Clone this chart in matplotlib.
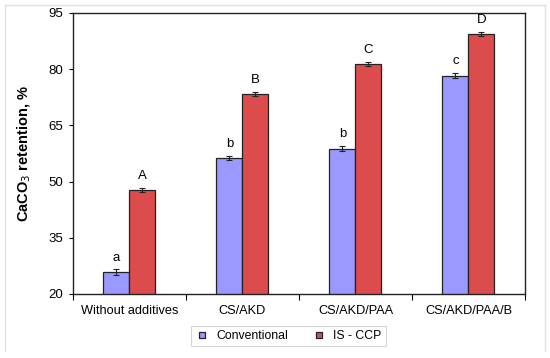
import matplotlib.pyplot as plt
import numpy as np
from matplotlib.lines import Line2D

plt.rcParams['font.family'] = ['Liberation Sans', 'DejaVu Sans']

categories = ['Without additives', 'CS/AKD', 'CS/AKD/PAA', 'CS/AKD/PAA/B']
conventional = [25.8, 56.3, 58.8, 78.3]
conv_err = [0.8, 0.6, 0.6, 0.6]
isccp = [47.8, 73.4, 81.4, 89.4]
isccp_err = [0.5, 0.5, 0.6, 0.5]
conv_letters = ['a', 'b', 'b', 'c']
isccp_letters = ['A', 'B', 'C', 'D']

fig = plt.figure(figsize=(5.5, 3.58), dpi=100)
ax = fig.add_axes([0.1327, 0.1788, 0.8218, 0.785])

x = np.arange(len(categories))
w = 0.23
blue = '#9999ff'
red = '#dd4c4c'
ek = dict(ecolor='#222222', elinewidth=0.8, capsize=2.5, capthick=0.8)

ax.bar(x - w / 2, conventional, w, color=blue, edgecolor='#222222', linewidth=0.9,
       yerr=conv_err, error_kw=ek, zorder=2)
ax.bar(x + w / 2, isccp, w, color=red, edgecolor='#222222', linewidth=0.9,
       yerr=isccp_err, error_kw=ek, zorder=2)

for i in range(len(categories)):
    ax.text(x[i] - w / 2, conventional[i] + 2.2, conv_letters[i], ha='center', va='bottom', fontsize=9.5)
    ax.text(x[i] + w / 2, isccp[i] + 2.2, isccp_letters[i], ha='center', va='bottom', fontsize=9.5)

ax.set_xlim(-0.5, 3.5)
ax.set_ylim(20, 95)
ax.set_yticks([20, 35, 50, 65, 80, 95])
ax.set_xticks(np.arange(-0.5, 4, 1))
ax.set_xticklabels([])
ax.set_xticks(x, minor=True)
ax.set_xticklabels(categories, minor=True, fontsize=9.2)
ax.tick_params(axis='x', which='minor', length=0, pad=8)
ax.tick_params(axis='x', which='major', length=4, direction='out')
ax.tick_params(axis='y', length=3, direction='out', labelsize=9.5, pad=4)

for s in ax.spines.values():
    s.set_linewidth(1.0)
    s.set_color('#222222')

ax.set_ylabel('CaCO$_3$ retention, %', fontsize=10.5, fontweight='bold')
ax.yaxis.set_label_coords(-0.088, 0.5)

handles = [Line2D([], [], linestyle='none', marker='s', markersize=5, markerfacecolor=blue,
                  markeredgecolor='#222222', markeredgewidth=0.9),
           Line2D([], [], linestyle='none', marker='s', markersize=5, markerfacecolor=red,
                  markeredgecolor='#222222', markeredgewidth=0.9)]
leg = ax.legend(handles, ['Conventional', 'IS - CCP'], loc='center', bbox_to_anchor=(0.477, -0.149),
                ncol=2, fontsize=8.8, frameon=True, fancybox=False, edgecolor='#cccccc',
                handlelength=1.0, columnspacing=2.0, handletextpad=0.7, borderpad=0.35)
leg.get_frame().set_linewidth(0.8)

# light gray frame around the figure
for xs, ys in [([0.009, 0.009], [0.02, 0.986]), ([0.009, 0.991], [0.986, 0.986]),
               ([0.991, 0.991], [0.02, 0.986])]:
    fig.add_artist(Line2D(xs, ys, color='#e2e2e2', linewidth=1.0, transform=fig.transFigure))

fig.savefig('out.png', dpi=100)
